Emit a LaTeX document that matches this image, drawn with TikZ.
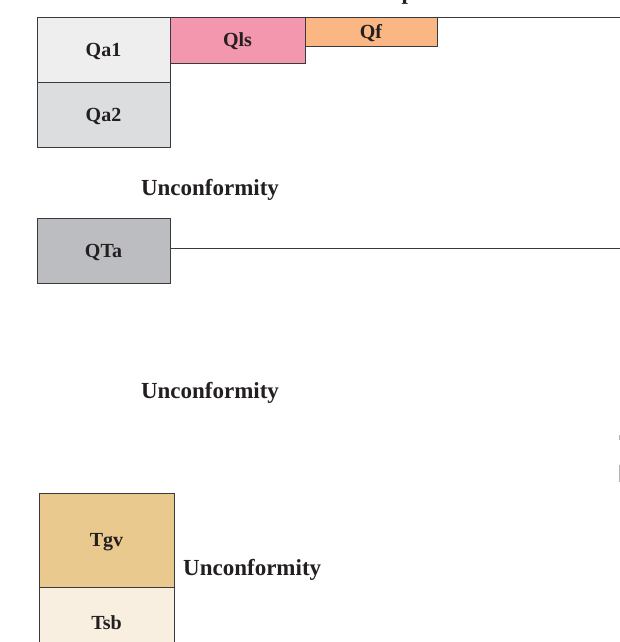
\documentclass[tikz,border=0pt]{standalone}
\usepackage{fontspec}
\setmainfont{Liberation Serif}
\usetikzlibrary{positioning}
\definecolor{txtblk}{HTML}{231F20}
\definecolor{edgegray}{HTML}{3A3A3C}
\definecolor{qaonefill}{HTML}{EEEEEE}
\definecolor{qatwofill}{HTML}{DCDDDE}
\definecolor{qlsfill}{HTML}{F297AE}
\definecolor{qffill}{HTML}{FAB683}
\definecolor{qtafill}{HTML}{BCBDC0}
\definecolor{tgvfill}{HTML}{E9C98E}
\definecolor{tsbfill}{HTML}{F8EFE1}
\tikzset{
  unitbox/.style={draw=edgegray,rectangle,line width=0.9pt,inner sep=0pt,outer sep=0pt,text=txtblk,
    font=\fontsize{20}{22}\selectfont\bfseries,text depth=0pt,minimum width=133pt},
  qaoneblk/.style={unitbox,fill=qaonefill,minimum height=65pt},
  qatwoblk/.style={unitbox,fill=qatwofill,minimum height=65pt},
  qlsblk/.style={unitbox,fill=qlsfill,minimum width=135pt,minimum height=46pt},
  qfblk/.style={unitbox,fill=qffill,minimum width=132pt,minimum height=29pt},
  qtablk/.style={unitbox,fill=qtafill,minimum height=65pt},
  tgvblk/.style={unitbox,fill=tgvfill,minimum width=135pt,minimum height=94pt},
  tsbblk/.style={unitbox,fill=tsbfill,minimum width=135pt,minimum height=72pt},
  contact/.style={draw=edgegray,line width=0.9pt},
  unclbl/.style={text=txtblk,font=\fontsize{23}{25}\selectfont\bfseries,inner sep=0pt}
}

\begin{document}
\begin{tikzpicture}[x=1pt,y=-1pt]
  \useasboundingbox (0,0) rectangle (620,642);
  % Heading (cut off at top)
  \node[text=txtblk,font=\fontsize{23}{25}\selectfont\bfseries,anchor=base,inner sep=0pt] (head) at (408,-0.5) {p};

  % Quaternary units
  \node[qaoneblk] (qa1) at (103.5,49.5) {Qa1};
  \node[qatwoblk, below=0pt of qa1] (qa2) {Qa2};
  \node[qlsblk, anchor=north west] (qls) at (qa1.north east) {Qls};
  \node[qfblk, anchor=north west] (qf) at (qls.north east) {Qf};
  \coordinate (topend) at (620,17);
  \draw[contact] (qf.north east) -- (topend);

  \node[unclbl] (unc1) at (210,189.5) {Unconformity};

  % QTa and contact
  \node[qtablk] (qta) at (103.5,250.5) {QTa};
  \coordinate (qtaend) at (620,248);
  \draw[contact] (qta.east |- qtaend) -- (qtaend);

  \node[unclbl] (unc2) at (210,392.5) {Unconformity};

  % Right edge marks
  \draw[gray!60, line width=1pt] (619,435) -- (619,440);
  \draw[gray!60, line width=1pt] (619,465) -- (619,482);

  % Tertiary units
  \node[tgvblk] (tgv) at (106.5,540) {Tgv};
  \node[tsbblk, below=0pt of tgv] (tsb) {Tsb};
  \node[unclbl, anchor=west] (unc3) at (183,569.5) {Unconformity};

\end{tikzpicture}
\end{document}
